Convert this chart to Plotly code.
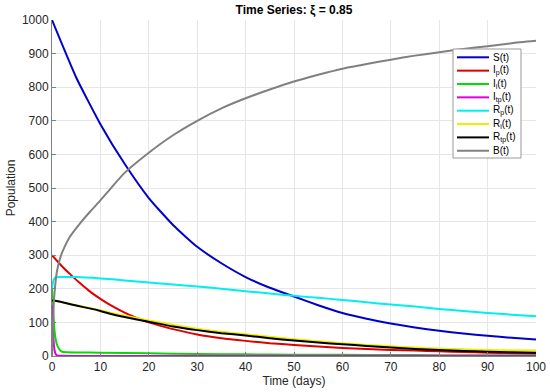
import plotly.graph_objects as go

# ---- data ----
t_S = [0, 5, 10, 15, 20, 25, 30, 35, 40, 45, 50, 55, 60, 65, 70, 75, 80, 85, 90, 95, 100]
S = [1000, 829, 690, 572, 470, 390, 325, 276, 235, 203, 177, 151, 128, 111, 97, 85, 75, 67, 60, 54, 49]

t_Ip = [0, 2, 4, 6, 8, 10, 12, 15, 17.5, 20, 25, 30, 35, 40, 45, 50, 55, 60, 65, 70, 75, 80, 85, 90, 95, 100]
Ip = [300, 268, 240, 214, 190, 170, 152, 129, 113, 100, 80, 64, 53, 45, 38, 33, 28, 24, 21, 18, 16, 14, 12, 10, 8.5, 7]

t_Ii = [0, 0.3, 0.6, 1, 1.5, 2, 3, 5, 10, 20, 30, 40, 50, 60, 70, 80, 90, 100]
Ii = [200, 120, 65, 35, 20, 13, 11, 10.5, 10, 8, 6, 5, 4, 3.5, 3, 2.5, 2, 2]

t_Itp = [0, 0.2, 0.4, 0.6, 0.8, 1, 2, 5, 20, 100]
Itp = [150, 75, 32, 12, 5, 2, 0.5, 0.2, 0, 0]

t_Rp = [0, 0.3, 0.7, 2, 5, 10, 15, 20, 25, 30, 35, 40, 45, 50, 55, 60, 65, 70, 75, 80, 85, 90, 95, 100]
Rp = [200, 225, 234, 235, 235, 231, 225, 219, 213, 207, 200, 193, 186, 179, 173, 167, 160, 153, 147, 140, 134, 128, 123, 118]

t_R = [0, 1, 3, 5, 8, 10, 12, 15, 20, 25, 30, 35, 40, 45, 50, 55, 60, 65, 70, 75, 80, 85, 90, 95, 100]
Ri = [165, 164, 157, 151, 142, 136, 129, 120, 106, 93, 81, 72, 65, 57, 50, 44, 38, 33, 29, 25, 22, 20, 18, 17, 16]
Rtp = [165, 164, 157, 150, 141, 134, 126, 116, 102, 88, 77, 68, 61, 53, 46, 40, 35, 30, 25, 21, 18, 15, 13, 11, 10]

t_B = [0, 0.2, 0.4, 0.7, 1, 1.65, 2.3, 3.7, 5.8, 7.9, 10, 12.5, 15, 20, 25, 30, 35, 40, 45, 50, 55, 60, 65, 70, 75, 80, 85, 90, 95, 100]
B = [0, 90, 165, 215, 250, 290, 315, 355, 395, 430, 463, 505, 545, 605, 657, 700, 737, 767, 793, 817, 837, 855, 869, 882, 894, 904, 914, 922, 931, 938]

x_ticks = [0, 10, 20, 30, 40, 50, 60, 70, 80, 90, 100]
y_ticks = [0, 100, 200, 300, 400, 500, 600, 700, 800, 900, 1000]

names = ["S(t)", "I<sub>p</sub>(t)", "I<sub>i</sub>(t)", "I<sub>tp</sub>(t)",
         "R<sub>p</sub>(t)", "R<sub>i</sub>(t)", "R<sub>tp</sub>(t)", "B(t)"]
colors = ["#0000CC", "#DD0000", "#00DD00", "#DD00DD", "#00EEEE", "#EEEE00", "#000000", "#808080"]
xs = [t_S, t_Ip, t_Ii, t_Itp, t_Rp, t_R, t_R, t_B]
ys = [S, Ip, Ii, Itp, Rp, Ri, Rtp, B]

fig = go.Figure()
for name, tx, vals, col in zip(names, xs, ys, colors):
    fig.add_trace(go.Scatter(x=tx, y=vals, mode="lines", name=name, showlegend=False,
                             line=dict(color=col, width=2, shape="spline", smoothing=0.5)))

# ---- legend drawn as a boxed key in the top-right of the axes ----
L, T, W, H = 52, 20, 484, 336          # plot-area pixel geometry
px = lambda v: (v - L) / W
py = lambda v: (T + H - v) / H
shapes = [dict(type="rect", xref="paper", yref="paper", layer="above",
               x0=px(453), x1=px(521), y0=py(158), y1=py(49),
               line=dict(color="#999999", width=1), fillcolor="white")]
annotations = []
for i, (name, col) in enumerate(zip(names, colors)):
    yy = py(57.3 + 13.35 * i)
    shapes.append(dict(type="line", xref="paper", yref="paper", layer="above",
                       x0=px(457), x1=px(489), y0=yy, y1=yy,
                       line=dict(color=col, width=2)))
    annotations.append(dict(text=name, xref="paper", yref="paper", x=px(491), y=yy,
                            xanchor="left", yanchor="middle", showarrow=False,
                            font=dict(size=10, color="#000000")))

font = "Liberation Sans, Arial, sans-serif"
fig.update_layout(
    width=550, height=392,
    margin=dict(l=L, r=550 - L - W, t=T, b=392 - T - H),
    paper_bgcolor="white", plot_bgcolor="white",
    font=dict(family=font, size=12, color="#262626"),
    title=dict(text="<b>Time Series: ξ = 0.85</b>", xref="paper", x=0.5, xanchor="center",
               y=1 - 10 / 392, yanchor="middle", font=dict(size=12, color="#000000")),
    shapes=shapes, annotations=annotations,
)
fig.update_xaxes(range=[0, 100], tickvals=x_ticks, ticks="inside", ticklen=4,
                 tickcolor="#808080", showline=True, linecolor="#808080", linewidth=1,
                 showgrid=True, gridcolor="#e6e6e6", zeroline=False, automargin=False,
                 tickfont=dict(size=12, color="#262626"),
                 title=dict(text="Time (days)", standoff=3, font=dict(size=12, color="#262626")))
fig.update_yaxes(range=[0, 1000], tickvals=y_ticks, ticks="inside", ticklen=4,
                 tickcolor="#808080", showline=True, linecolor="#808080", linewidth=1,
                 showgrid=True, gridcolor="#e6e6e6", zeroline=False, automargin=False,
                 tickfont=dict(size=12, color="#262626"),
                 title=dict(text="Population", standoff=3, font=dict(size=12, color="#262626")))

fig.write_html("out.html", config={"displayModeBar": False},
               post_script="document.body.style.margin='0px';document.body.style.overflow='hidden';")
